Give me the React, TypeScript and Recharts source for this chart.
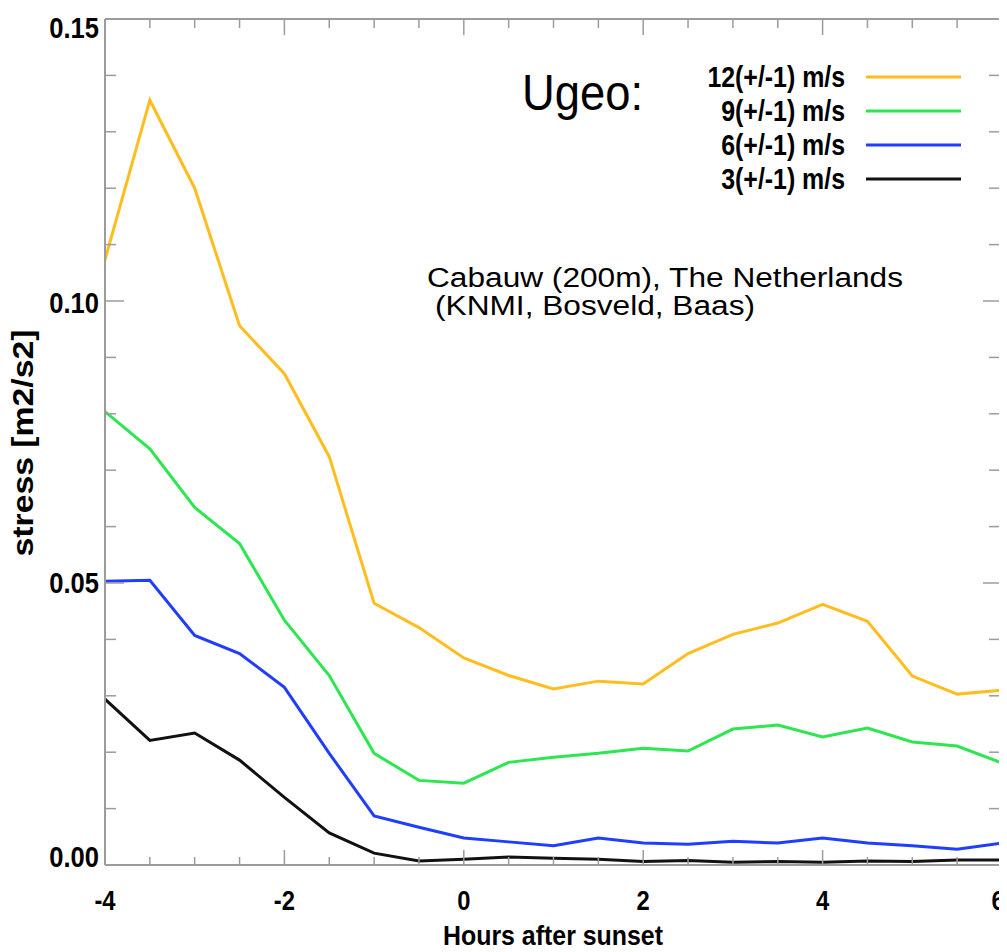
import { LineChart, Line, XAxis, YAxis, Legend } from "recharts";

// hours after sunset, every half hour
const HOURS = [-4, -3.5, -3, -2.5, -2, -1.5, -1, -0.5, 0, 0.5, 1, 1.5, 2, 2.5, 3, 3.5, 4, 4.5, 5, 5.5, 6];

// stress [m2/s2] per geostrophic wind class
const U12 = [0.1073, 0.1356, 0.12, 0.0956, 0.0871, 0.0724, 0.0464, 0.0421, 0.0367, 0.0336, 0.0312, 0.0326, 0.0321, 0.0375, 0.0409, 0.0429, 0.0462, 0.0432, 0.0335, 0.0303, 0.031];
const U9 = [0.0804, 0.0738, 0.0634, 0.057, 0.0434, 0.0336, 0.0198, 0.015, 0.0145, 0.0182, 0.0191, 0.0198, 0.0207, 0.0202, 0.0241, 0.0248, 0.0227, 0.0243, 0.0218, 0.0211, 0.0181];
const U6 = [0.0503, 0.0505, 0.0407, 0.0375, 0.0315, 0.0198, 0.0087, 0.0067, 0.0048, 0.0041, 0.0034, 0.0048, 0.0039, 0.0037, 0.0042, 0.0039, 0.0048, 0.0039, 0.0034, 0.0028, 0.0039];
const U3 = [0.0294, 0.0221, 0.0234, 0.0186, 0.012, 0.0057, 0.0021, 0.0007, 0.001, 0.0014, 0.0012, 0.001, 0.0006, 0.0008, 0.0005, 0.0006, 0.0005, 0.0007, 0.0006, 0.0009, 0.0009];

const SERIES_KEYS = ["u12", "u9", "u6", "u3"];
const SERIES_NAMES = ["12(+/-1) m/s", "9(+/-1) m/s", "6(+/-1) m/s", "3(+/-1) m/s"];
const SERIES_VALUES = [U12, U9, U6, U3];

const X_MAJOR = [-4, -2, 0, 2, 4, 6];
const X_MINOR = [-3.5, -3, -2.5, -1.5, -1, -0.5, 0.5, 1, 1.5, 2.5, 3, 3.5, 4.5, 5, 5.5];
const Y_MAJOR = [0, 0.05, 0.1, 0.15];
const Y_MINOR = [0.01, 0.02, 0.03, 0.04, 0.06, 0.07, 0.08, 0.09, 0.11, 0.12, 0.13, 0.14];

const COLORS: Record<string, string> = {
  u12: "#ffbd1f",
  u9: "#2ee650",
  u6: "#1f3eff",
  u3: "#111111",
};

const AXIS = "#9c9c9c";
const SANS = '"Liberation Sans", Arial, sans-serif';

const data = HOURS.map((h, i) => {
  const row: Record<string, number> = { hour: h };
  SERIES_KEYS.forEach((k, s) => {
    row[k] = SERIES_VALUES[s][i];
  });
  return row;
});

// condensed bold text (the original uses a narrow Helvetica)
function NText({ x, y, anchor = "start", size, sx = 0.82, children }: any) {
  return (
    <text
      transform={`translate(${x} ${y}) scale(${sx} 1)`}
      x={0}
      y={0}
      textAnchor={anchor}
      dominantBaseline="central"
      fontFamily={SANS}
      fontWeight="bold"
      fontSize={size}
      fill="#000"
    >
      {children}
    </text>
  );
}

const EmptyTick = () => <g />;

function YTick({ x, y, payload }: any) {
  const v = payload.value;
  const dy = v === 0 ? -8 : v === 0.15 ? 8.5 : v === 0.1 ? 2 : 0;
  return (
    <NText x={x} y={y + dy} anchor="end" size={29} sx={0.88}>
      {v.toFixed(2)}
    </NText>
  );
}

function XTick({ x, y, payload }: any) {
  // last label sits right on the page edge; nudge it in a little
  const dx = payload.value === 6 ? -4 : 0;
  return (
    <NText x={x + dx} y={y + 33} anchor="middle" size={28} sx={0.85}>
      {payload.value}
    </NText>
  );
}

function LegendBox() {
  return (
    <svg width={999} height={200} style={{ display: "block" }}>
      <text x={514} y={102} fontFamily={SANS} fontSize={50} textLength={121} lengthAdjust="spacingAndGlyphs" fill="#000">
        Ugeo:
      </text>
      {SERIES_KEYS.map((k, i) => (
        <g key={k}>
          <NText x={837} y={69 + i * 34} anchor="end" size={30} sx={0.83}>
            {SERIES_NAMES[i]}
          </NText>
          <line x1={858} x2={953} y1={69 + i * 34} y2={69 + i * 34} stroke={COLORS[k]} strokeWidth={3} />
        </g>
      ))}
    </svg>
  );
}

const tickStyle = { stroke: AXIS, strokeWidth: 1.5 };

export default function App() {
  return (
    <div style={{ position: "relative", width: 999, height: 944, background: "#fff" }}>
      <LineChart width={999} height={944} data={data} margin={{ top: 11, right: 5, left: 0, bottom: 0 }}>
        {/* labelled axes */}
        <XAxis
          xAxisId="x"
          dataKey="hour"
          type="number"
          domain={[-4, 6]}
          allowDataOverflow
          ticks={X_MAJOR}
          interval={0}
          height={87}
          tickSize={0}
          tickLine={false}
          tick={<XTick />}
          axisLine={{ stroke: AXIS, strokeWidth: 2 }}
        />
        <YAxis
          yAxisId="y"
          type="number"
          domain={[0, 0.15]}
          allowDataOverflow
          ticks={Y_MAJOR}
          interval={0}
          width={97}
          tickSize={0}
          tickMargin={6}
          tickLine={false}
          tick={<YTick />}
          axisLine={{ stroke: AXIS, strokeWidth: 2 }}
        />
        {/* inward tick marks on all four sides */}
        <XAxis xAxisId="bMaj" dataKey="hour" type="number" domain={[-4, 6]} allowDataOverflow mirror height={1} ticks={X_MAJOR} interval={0} tickSize={15} tick={EmptyTick} axisLine={false} tickLine={tickStyle} />
        <XAxis xAxisId="bMin" dataKey="hour" type="number" domain={[-4, 6]} allowDataOverflow mirror height={1} ticks={X_MINOR} interval={0} tickSize={7} tick={EmptyTick} axisLine={false} tickLine={tickStyle} />
        <XAxis xAxisId="tMaj" orientation="top" dataKey="hour" type="number" domain={[-4, 6]} allowDataOverflow mirror height={1} ticks={X_MAJOR} interval={0} tickSize={16} tick={EmptyTick} axisLine={{ stroke: AXIS, strokeWidth: 2 }} tickLine={tickStyle} />
        <XAxis xAxisId="tMin" orientation="top" dataKey="hour" type="number" domain={[-4, 6]} allowDataOverflow mirror height={1} ticks={X_MINOR} interval={0} tickSize={8} tick={EmptyTick} axisLine={false} tickLine={tickStyle} />
        <YAxis yAxisId="lMaj" type="number" domain={[0, 0.15]} allowDataOverflow mirror width={1} ticks={Y_MAJOR} interval={0} tickSize={19} tick={EmptyTick} axisLine={false} tickLine={tickStyle} />
        <YAxis yAxisId="lMin" type="number" domain={[0, 0.15]} allowDataOverflow mirror width={1} ticks={Y_MINOR} interval={0} tickSize={10} tick={EmptyTick} axisLine={false} tickLine={tickStyle} />
        <YAxis yAxisId="rMaj" orientation="right" type="number" domain={[0, 0.15]} allowDataOverflow mirror width={1} ticks={Y_MAJOR} interval={0} tickSize={19} tick={EmptyTick} axisLine={{ stroke: AXIS, strokeWidth: 2 }} tickLine={tickStyle} />
        <YAxis yAxisId="rMin" orientation="right" type="number" domain={[0, 0.15]} allowDataOverflow mirror width={1} ticks={Y_MINOR} interval={0} tickSize={12} tick={EmptyTick} axisLine={false} tickLine={tickStyle} />

        {SERIES_KEYS.map((k, i) => (
          <Line
            key={k}
            xAxisId="x"
            yAxisId="y"
            type="linear"
            dataKey={k}
            name={SERIES_NAMES[i]}
            stroke={COLORS[k]}
            strokeWidth={3}
            dot={false}
            activeDot={false}
            isAnimationActive={false}
          />
        ))}

        <Legend
          layout="horizontal"
          verticalAlign="middle"
          align="center"
          wrapperStyle={{ top: 0, left: 0, width: 999, height: 200 }}
          content={() => <LegendBox />}
        />
      </LineChart>

      <svg width={999} height={944} style={{ position: "absolute", left: 0, top: 0, pointerEvents: "none" }}>
        <text x={419} y={279} fontFamily={SANS} fontSize={27} textLength={476} lengthAdjust="spacingAndGlyphs" fill="#000">
          Cabauw (200m), The Netherlands
        </text>
        <text x={427} y={307} fontFamily={SANS} fontSize={27} textLength={320} lengthAdjust="spacingAndGlyphs" fill="#000">
          (KNMI, Bosveld, Baas)
        </text>
        <text
          x={15}
          y={435}
          transform="rotate(-90 15 435)"
          textAnchor="middle"
          dominantBaseline="central"
          fontFamily={SANS}
          fontWeight="bold"
          fontSize={29}
          textLength={227}
          lengthAdjust="spacingAndGlyphs"
          fill="#000"
        >
          stress [m2/s2]
        </text>
        <text
          x={545}
          y={927}
          textAnchor="middle"
          dominantBaseline="central"
          fontFamily={SANS}
          fontWeight="bold"
          fontSize={28}
          textLength={220}
          lengthAdjust="spacingAndGlyphs"
          fill="#000"
        >
          Hours after sunset
        </text>
      </svg>
    </div>
  );
}
